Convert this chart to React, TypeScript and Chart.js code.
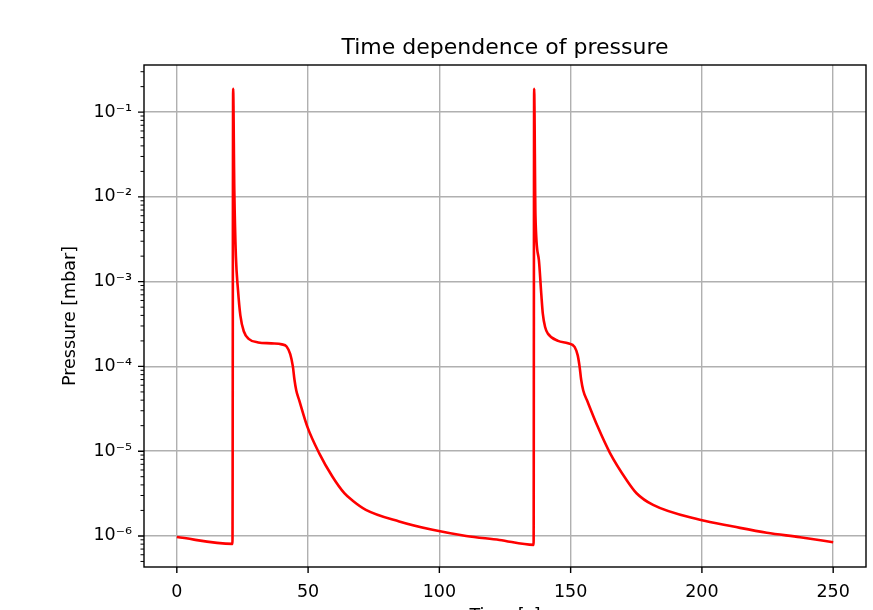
import React, { useEffect, useRef } from 'react';
import { Chart, registerables } from 'chart.js';

Chart.register(...registerables);

const FONT = '"DejaVu Sans", "Liberation Sans", sans-serif';

const titleText = 'Time dependence of pressure';
const xLabel = 'Time [s]';
const yLabel = 'Pressure [mbar]';

const timeS = [
  0, 21.2, 21.45, 21.9, 22.5, 23.3, 24.2, 25.5, 27.5, 31,
  36, 40, 41.8, 43.2, 44.2, 44.8, 45.5, 46.6, 49.7, 54.2,
  59.3, 63.8, 67, 72, 84.7, 97.4, 110.2, 122.9, 135.9, 136.1,
  136.6, 137.9, 138.8, 139.4, 140.3, 141.3, 145.2, 149, 151.5, 152.7,
  153.4, 154, 154.8, 156.5, 160.3, 165, 171.3, 175.1, 181.4, 199.2,
  212, 224.7, 237.4, 250,
];

const pressureMbar = [
  9.7e-7, 8.05e-7, 0.189, 0.012, 2.0e-3, 8.0e-4, 4.0e-4, 2.6e-4, 2.1e-4, 1.92e-4,
  1.87e-4, 1.82e-4, 1.72e-4, 1.4e-4, 1.0e-4, 7.0e-5, 5.2e-5, 4.0e-5, 1.95e-5, 9.5e-6,
  5.0e-6, 3.2e-6, 2.6e-6, 2.03e-6, 1.48e-6, 1.18e-6, 1.0e-6, 8.97e-7, 7.85e-7, 0.189,
  6.0e-3, 1.81e-3, 7.3e-4, 4.2e-4, 2.9e-4, 2.45e-4, 2.0e-4, 1.88e-4, 1.7e-4, 1.35e-4,
  1.0e-4, 7.0e-5, 5.2e-5, 3.8e-5, 1.95e-5, 9.5e-6, 4.57e-6, 3.19e-6, 2.32e-6, 1.55e-6,
  1.29e-6, 1.09e-6, 9.66e-7, 8.43e-7,
];

const xTickValues = [0, 50, 100, 150, 200, 250];
const yTickExponents = [-6, -5, -4, -3, -2, -1];
const xLimits = [-12.5, 262.5];
const yLimits = [4.3e-7, 0.36];

const SUP: Record<string, string> = {
  '-': '\u207B', '0': '\u2070', '1': '\u00B9', '2': '\u00B2', '3': '\u00B3',
  '4': '\u2074', '5': '\u2075', '6': '\u2076', '7': '\u2077', '8': '\u2078', '9': '\u2079',
};

function powLabel(v: number): string {
  const e = Math.round(Math.log10(v));
  return '10' + String(e).split('').map((c) => SUP[c] || c).join('');
}

const mplDecor = {
  id: 'mplDecor',
  afterDraw(chart: any) {
    const { ctx, chartArea: a, scales } = chart;
    const xs = scales.x;
    const ys = scales.y;
    ctx.save();
    ctx.strokeStyle = '#000';
    ctx.lineWidth = 1.4;
    ctx.beginPath();
    for (const v of xTickValues) {
      const px = xs.getPixelForValue(v);
      ctx.moveTo(px, a.bottom);
      ctx.lineTo(px, a.bottom + 6);
    }
    for (const e of yTickExponents) {
      const py = ys.getPixelForValue(Math.pow(10, e));
      ctx.moveTo(a.left, py);
      ctx.lineTo(a.left - 6, py);
    }
    ctx.stroke();
    ctx.lineWidth = 1.0;
    ctx.beginPath();
    for (let e = -7; e <= 0; e++) {
      for (let m = 2; m <= 9; m++) {
        const v = m * Math.pow(10, e);
        if (v < yLimits[0] || v > yLimits[1]) continue;
        const py = ys.getPixelForValue(v);
        ctx.moveTo(a.left, py);
        ctx.lineTo(a.left - 3.5, py);
      }
    }
    ctx.stroke();
    ctx.lineWidth = 1.4;
    ctx.strokeRect(a.left, a.top, a.right - a.left, a.bottom - a.top);
    ctx.fillStyle = '#000';
    ctx.font = '22px ' + FONT;
    ctx.textAlign = 'center';
    ctx.textBaseline = 'alphabetic';
    ctx.fillText(titleText, (a.left + a.right) / 2, 54);
    ctx.restore();
  },
};

export default function App() {
  const canvasRef = useRef<HTMLCanvasElement | null>(null);

  useEffect(() => {
    if (!canvasRef.current) return;
    Chart.defaults.font.family = FONT;
    const chart = new Chart(canvasRef.current, {
      type: 'line',
      data: {
        datasets: [
          {
            data: timeS.map((t, i) => ({ x: t, y: pressureMbar[i] })),
            borderColor: '#ff0000',
            borderWidth: 2.6,
            pointRadius: 0,
            cubicInterpolationMode: 'monotone',
            borderJoinStyle: 'round',
            fill: false,
          },
        ],
      },
      options: {
        animation: false,
        responsive: true,
        maintainAspectRatio: false,
        layout: { padding: { left: 0, right: 7, top: 65, bottom: 0 } },
        plugins: {
          legend: { display: false },
          tooltip: { enabled: false },
          title: { display: false },
        },
        scales: {
          x: {
            type: 'linear',
            min: xLimits[0],
            max: xLimits[1],
            afterBuildTicks: (s: any) => {
              s.ticks = xTickValues.map((v) => ({ value: v }));
            },
            afterFit: (s: any) => {
              s.height = 73;
            },
            ticks: {
              autoSkip: false,
              maxRotation: 0,
              padding: 14.5,
              color: '#000',
              font: { size: 17.5, family: FONT },
              callback: (v: any) => String(v),
            },
            grid: { color: '#b0b0b0', lineWidth: 1.4, drawTicks: false },
            border: { display: false },
            title: {
              display: true,
              text: xLabel,
              color: '#000',
              font: { size: 17.5, family: FONT },
              padding: { top: 0, bottom: 13.5 },
            },
          },
          y: {
            type: 'logarithmic',
            min: yLimits[0],
            max: yLimits[1],
            afterBuildTicks: (s: any) => {
              s.ticks = yTickExponents.map((e) => ({ value: Math.pow(10, e) }));
            },
            afterFit: (s: any) => {
              s.width = 144;
            },
            ticks: {
              autoSkip: false,
              padding: 12,
              color: '#000',
              font: { size: 17.5, family: FONT },
              callback: (v: any) => powLabel(Number(v)),
            },
            grid: { color: '#b0b0b0', lineWidth: 1.4, drawTicks: false },
            border: { display: false },
            title: {
              display: true,
              text: yLabel,
              color: '#000',
              font: { size: 17.5, family: FONT },
              padding: { top: 59.5, bottom: 0 },
            },
          },
        },
      } as any,
      plugins: [mplDecor],
    } as any);
    return () => chart.destroy();
  }, []);

  return (
    <div style={{ position: 'fixed', left: 0, top: 0, width: 873, height: 610, overflow: 'hidden', background: '#fff' }}>
      <div style={{ position: 'relative', width: 873, height: 640 }}>
        <canvas ref={canvasRef} />
      </div>
    </div>
  );
}
